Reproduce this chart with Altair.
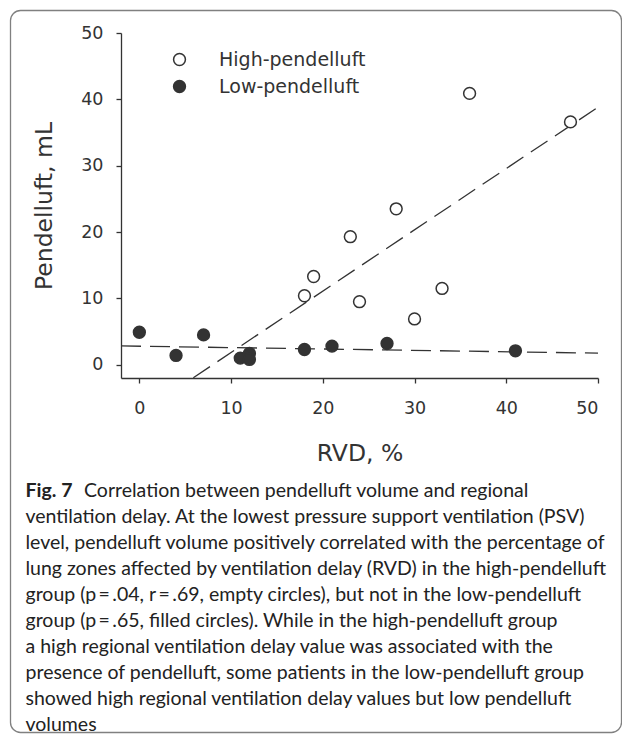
import altair as alt
import pandas as pd

# ---- data ----
groups = ["High-pendelluft", "Low-pendelluft"]
high_rvd = [18, 19, 23, 24, 28, 30, 33, 36, 47]
high_pend = [10.4, 13.3, 19.3, 9.5, 23.5, 6.9, 11.5, 40.9, 36.6]
low_rvd = [0, 4, 7, 11, 12, 12, 18, 21, 27, 41]
low_pend = [4.9, 1.4, 4.5, 1.0, 1.7, 0.8, 2.3, 2.8, 3.2, 2.1]
x_ticks = [0, 10, 20, 30, 40, 50]
y_ticks = [0, 10, 20, 30, 40, 50]

caption_head = "Fig. 7"
caption_first = "Correlation between pendelluft volume and regional"
caption_rest = [
    "ventilation delay. At the lowest pressure support ventilation (PSV)",
    "level, pendelluft volume positively correlated with the percentage of",
    "lung zones affected by ventilation delay (RVD) in the high-pendelluft",
    "group (p\u2009=\u2009.04, r\u2009=\u2009.69, empty circles), but not in the low-pendelluft",
    "group (p\u2009=\u2009.65, filled circles). While in the high-pendelluft group",
    "a high regional ventilation delay value was associated with the",
    "presence of pendelluft, some patients in the low-pendelluft group",
    "showed high regional ventilation delay values but low pendelluft",
    "volumes",
]

df = pd.DataFrame({
    "rvd": high_rvd + low_rvd,
    "pend": high_pend + low_pend,
    "group": [groups[0]] * len(high_rvd) + [groups[1]] * len(low_rvd),
})

INK = "#333333"
AXFONT = "DejaVu Sans"
CAPFONT = "Lato, sans-serif"
CAPSIZE = 19.5

x_enc = alt.X(
    "rvd:Q",
    scale=alt.Scale(domain=[-2, 50], nice=False, zero=False),
    axis=alt.Axis(values=x_ticks, title="RVD, %", grid=False, tickSize=5,
                  labelPadding=16, titlePadding=25, format="d"),
)
y_enc = alt.Y(
    "pend:Q",
    scale=alt.Scale(domain=[-2, 50], nice=False, zero=False),
    axis=alt.Axis(values=y_ticks, title="Pendelluft, mL", grid=False, tickSize=5,
                  labelPadding=13, titlePadding=24, format="d"),
)

border = alt.Chart(pd.DataFrame({"k": [0]})).mark_rect(
    cornerRadius=10, fillOpacity=0, stroke="#808080", strokeWidth=1.3, clip=False
).encode(
    x=alt.value(-110.5), x2=alt.value(500.5), y=alt.value(-22.5), y2=alt.value(699.5)
)

lines = alt.Chart(df).transform_regression(
    "rvd", "pend", groupby=["group"], extent=[-2, 50]
).mark_line(color=INK, strokeWidth=1.3, strokeDash=[20, 9], clip=True).encode(
    x=x_enc, y=y_enc, detail="group:N"
)

points = alt.Chart(df).mark_point(
    shape="circle", filled=True, size=140, stroke=INK, strokeWidth=1.5, opacity=1
).encode(
    x=x_enc,
    y=y_enc,
    fill=alt.Fill(
        "group:N",
        scale=alt.Scale(domain=groups, range=["white", INK]),
        legend=alt.Legend(
            title=None, orient="none", legendX=49, legendY=17, padding=0,
            symbolType="circle", symbolSize=140, symbolStrokeColor=INK,
            symbolStrokeWidth=1.5, labelFont=AXFONT, labelFontSize=19,
            labelColor=INK, labelOffset=30, rowPadding=7,
        ),
    ),
)

cap_head = alt.Chart(pd.DataFrame({"t": [caption_head]})).mark_text(
    align="left", baseline="alphabetic", font=CAPFONT, fontSize=CAPSIZE,
    fontWeight="bold", color="#222222"
).encode(text="t:N", x=alt.value(-95.5), y=alt.value(463.5))

cap_first = alt.Chart(pd.DataFrame({"t": [caption_first]})).mark_text(
    align="left", baseline="alphabetic", font=CAPFONT, fontSize=CAPSIZE, color="#222222"
).encode(text="t:N", x=alt.value(-37), y=alt.value(463.5))

cap_rest = alt.Chart(pd.DataFrame({"t": ["\n".join(caption_rest)]})).mark_text(
    align="left", baseline="alphabetic", font=CAPFONT, fontSize=CAPSIZE,
    color="#222222", lineBreak="\n", lineHeight=26
).encode(text="t:N", x=alt.value(-95.5), y=alt.value(489.5))

chart = alt.layer(border, lines, points, cap_head, cap_first, cap_rest).properties(
    width=477,
    height=345,
    padding={"left": 113, "top": 25, "right": 24, "bottom": 356},
    autosize=alt.AutoSizeParams(type="none"),
).configure_view(stroke=None).configure_axis(
    domainColor=INK, domainWidth=1.3, tickColor=INK, tickWidth=1.3,
    labelFont=AXFONT, labelFontSize=17.5, labelColor=INK,
    titleFont=AXFONT, titleFontSize=23.5, titleFontWeight="normal", titleColor=INK,
)

chart.save("out.html", embed_options={"renderer": "svg", "actions": False})
